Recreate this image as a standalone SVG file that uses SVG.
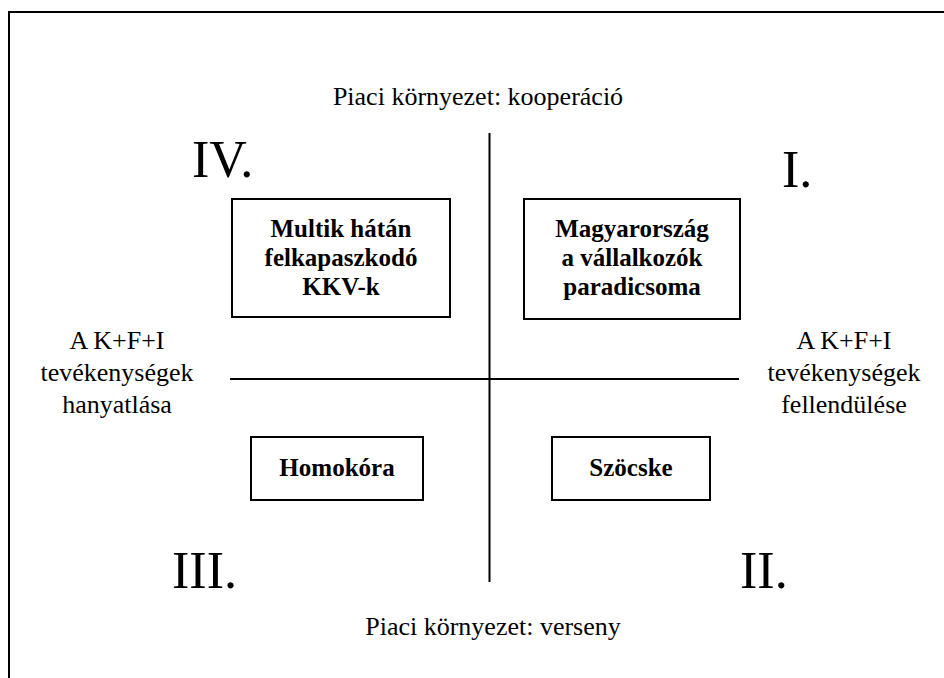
<svg xmlns="http://www.w3.org/2000/svg" width="944" height="678" viewBox="0 0 944 678">
  <style>
    .lbl { font-family: "Liberation Serif", "Times New Roman", serif; font-size: 26px; fill: #000; text-anchor: middle; }
    .box { fill: #fff; stroke: #000; stroke-width: 2; }
    .boxtxt { font-family: "Liberation Serif", "Times New Roman", serif; font-size: 25px; font-weight: bold; fill: #000; text-anchor: middle; }
    .quad { font-family: "Liberation Serif", "Times New Roman", serif; font-size: 52px; fill: #000; }
    .axis { stroke: #000; stroke-width: 2; fill: none; }
  </style>
  <rect width="944" height="678" fill="#fff"/>
  <!-- page frame -->
  <path d="M9,690 V12 H950" fill="none" stroke="#000" stroke-width="2"/>

  <!-- axes -->
  <g id="axes">
    <line class="axis" x1="489.5" y1="133" x2="489.5" y2="582"/>
    <line class="axis" x1="230" y1="379" x2="739" y2="379"/>
  </g>

  <!-- axis labels -->
  <g id="label-top"><text class="lbl" x="478" y="105">Piaci környezet: kooperáció</text></g>
  <g id="label-bottom"><text class="lbl" x="493" y="635">Piaci környezet: verseny</text></g>
  <g id="label-left">
    <text class="lbl" x="117" y="349">A K+F+I</text>
    <text class="lbl" x="117" y="381">tevékenységek</text>
    <text class="lbl" x="117" y="413">hanyatlása</text>
  </g>
  <g id="label-right">
    <text class="lbl" x="844" y="349">A K+F+I</text>
    <text class="lbl" x="844" y="381">tevékenységek</text>
    <text class="lbl" x="844" y="413">fellendülése</text>
  </g>

  <!-- quadrant numerals -->
  <g id="quadrant-numbers">
    <text class="quad" x="192" y="177">IV.</text>
    <text class="quad" x="782" y="187">I.</text>
    <text class="quad" x="172" y="588">III.</text>
    <text class="quad" x="740" y="588">II.</text>
  </g>

  <!-- quadrant boxes -->
  <g id="box-multik">
    <rect class="box" x="232" y="199" width="218" height="118"/>
    <text class="boxtxt" x="341" y="237">Multik hátán</text>
    <text class="boxtxt" x="341" y="266">felkapaszkodó</text>
    <text class="boxtxt" x="341" y="295">KKV-k</text>
  </g>
  <g id="box-magyarorszag">
    <rect class="box" x="524" y="199" width="216" height="120"/>
    <text class="boxtxt" x="632" y="237">Magyarország</text>
    <text class="boxtxt" x="632" y="266">a vállalkozók</text>
    <text class="boxtxt" x="632" y="295">paradicsoma</text>
  </g>
  <g id="box-homokora">
    <rect class="box" x="251" y="437" width="172" height="63"/>
    <text class="boxtxt" x="337" y="476">Homokóra</text>
  </g>
  <g id="box-szocske">
    <rect class="box" x="552" y="437" width="158" height="63"/>
    <text class="boxtxt" x="631" y="476">Szöcske</text>
  </g>
</svg>
